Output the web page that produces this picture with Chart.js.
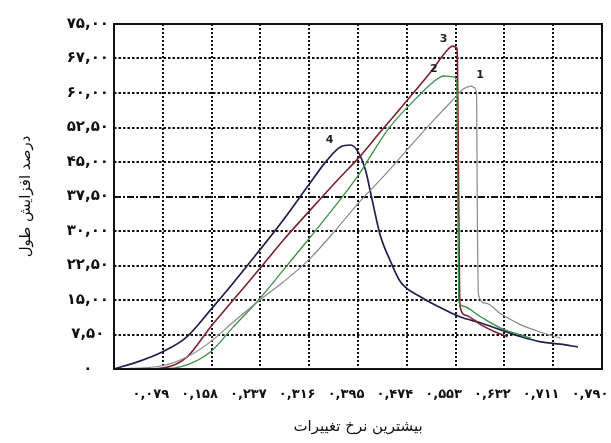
<!DOCTYPE html>
<html>
<head>
<meta charset="utf-8">
<script src="https://cdn.jsdelivr.net/npm/chart.js@4"></script>
<style>
html,body{margin:0;padding:0;background:#fff;}
canvas{display:block;}
</style>
</head>
<body>
<canvas id="c" width="611" height="443"></canvas>
<script>
// ---- data ----
const xTickValues = [0, 0.079, 0.158, 0.237, 0.316, 0.395, 0.474, 0.553, 0.632, 0.711, 0.79];
const xTickLabels = ['', '۰,۰۷۹', '۰,۱۵۸', '۰,۲۳۷', '۰,۳۱۶', '۰,۳۹۵', '۰,۴۷۴', '۰,۵۵۳', '۰,۶۳۲', '۰,۷۱۱', '۰,۷۹۰'];
const yTickValues = [0, 7.5, 15, 22.5, 30, 37.5, 45, 52.5, 60, 67.5, 75];
const yTickLabels = ['۰', '۷,۵۰', '۱۵,۰۰', '۲۲,۵۰', '۳۰,۰۰', '۳۷,۵۰', '۴۵,۰۰', '۵۲,۵۰', '۶۰,۰۰', '۶۷,۰۰', '۷۵,۰۰'];
const seriesNames = ['1', '2', '3', '4'];

const series1X = [0, 0.078, 0.118, 0.156, 0.193, 0.234, 0.274, 0.318, 0.362, 0.396, 0.440, 0.480, 0.521, 0.553, 0.566, 0.578, 0.584, 0.587, 0.588, 0.590, 0.602, 0.626, 0.659, 0.691, 0.723];
const series1Y = [0, 0.7, 2.6, 5.9, 10.2, 14.8, 18.9, 24.1, 30.7, 36.1, 42.4, 48.5, 54.6, 59.1, 60.9, 61.5, 61.1, 59.6, 36.7, 16.1, 14.3, 12.0, 9.6, 8.0, 6.7];

const series2X = [0, 0.078, 0.118, 0.156, 0.193, 0.234, 0.274, 0.318, 0.362, 0.396, 0.443, 0.491, 0.517, 0.534, 0.550, 0.555, 0.556, 0.558, 0.564, 0.594, 0.626, 0.675];
const series2Y = [0, 0, 0.9, 3.7, 9.1, 15.0, 21.5, 28.7, 36.1, 42.2, 52.0, 59.1, 62.4, 63.7, 63.5, 62.4, 47.6, 15.0, 13.7, 11.3, 8.9, 6.7];

const series3X = [0, 0.042, 0.078, 0.118, 0.156, 0.193, 0.234, 0.274, 0.318, 0.362, 0.396, 0.431, 0.472, 0.513, 0.537, 0.548, 0.555, 0.556, 0.558, 0.560, 0.569, 0.594, 0.618, 0.637];
const series3Y = [0, 0, 0.2, 2.6, 9.1, 15.0, 21.5, 28.0, 34.6, 41.1, 45.9, 51.5, 58.0, 64.6, 68.9, 70.2, 69.8, 67.2, 36.7, 13.9, 11.7, 9.6, 8.0, 7.0];

const series4X = [0, 0.037, 0.078, 0.118, 0.156, 0.193, 0.232, 0.274, 0.313, 0.345, 0.367, 0.383, 0.396, 0.407, 0.418, 0.431, 0.448, 0.464, 0.496, 0.529, 0.561, 0.594, 0.626, 0.659, 0.691, 0.723, 0.751];
const series4Y = [0, 1.5, 3.7, 7.0, 12.8, 18.7, 25.2, 32.4, 39.6, 45.4, 48.3, 48.7, 47.0, 43.3, 36.7, 29.1, 23.3, 18.9, 15.7, 13.3, 11.3, 10.0, 8.5, 7.0, 5.9, 5.4, 4.8];

// ---- styling ----
const colors = ['#8a8a8a', '#3f8f45', '#7b2230', '#20204e'];
const widths = [1.2, 1.3, 1.6, 1.7];
const labelOffsets = [[9, -11], [-10, -7], [-9, -7], [-21, -5]];
const FONT = "'DejaVu Sans', sans-serif";

function pts(xs, ys) { return xs.map((x, i) => ({x: x, y: ys[i]})); }
const allX = [series1X, series2X, series3X, series4X];
const allY = [series1Y, series2Y, series3Y, series4Y];

const datasets = allX.map((xs, i) => ({
  label: seriesNames[i],
  data: pts(xs, allY[i]),
  borderColor: colors[i],
  borderWidth: widths[i],
  pointRadius: 0,
  fill: false,
  cubicInterpolationMode: 'monotone'
}));

const gridPlugin = {
  id: 'gridFrame',
  beforeDatasetsDraw(chart) {
    const {ctx, chartArea: a, scales: {x, y}} = chart;
    ctx.save();
    ctx.strokeStyle = '#111';
    ctx.lineWidth = 2;
    xTickValues.forEach(v => {
      if (v === xTickValues[0] || v === xTickValues[xTickValues.length - 1]) return;
      const px = Math.round(x.getPixelForValue(v));
      ctx.setLineDash([2, 2]);
      ctx.beginPath(); ctx.moveTo(px, a.top); ctx.lineTo(px, a.bottom); ctx.stroke();
    });
    yTickValues.forEach(v => {
      if (v === yTickValues[0] || v === yTickValues[yTickValues.length - 1]) return;
      const py = Math.round(y.getPixelForValue(v));
      ctx.setLineDash(v === 37.5 ? [7, 2, 2, 2] : [2.5, 2]);
      ctx.beginPath(); ctx.moveTo(a.left, py); ctx.lineTo(a.right, py); ctx.stroke();
    });
    ctx.restore();
  },
  afterDatasetsDraw(chart) {
    const {ctx, chartArea: a, scales: {x, y}} = chart;
    ctx.save();
    ctx.strokeStyle = '#111';
    ctx.lineWidth = 2;
    ctx.setLineDash([]);
    ctx.strokeRect(a.left, a.top, a.right - a.left, a.bottom - a.top);
    // series labels at each curve's peak
    ctx.fillStyle = '#222';
    ctx.font = "bold 11px 'DejaVu Sans', sans-serif";
    ctx.textAlign = 'center';
    ctx.textBaseline = 'middle';
    allY.forEach((ys, i) => {
      let m = 0;
      ys.forEach((v, j) => { if (v > ys[m]) m = j; });
      const px = x.getPixelForValue(allX[i][m]) + labelOffsets[i][0];
      const py = y.getPixelForValue(ys[m]) + labelOffsets[i][1];
      ctx.fillText(seriesNames[i], px, py);
    });
    ctx.restore();
  }
};

new Chart(document.getElementById('c'), {
  type: 'line',
  data: {datasets: datasets},
  options: {
    responsive: false,
    animation: false,
    events: [],
    layout: {padding: {left: 0, right: 9, top: 24, bottom: 0}},
    plugins: {legend: {display: false}, tooltip: {enabled: false}},
    scales: {
      x: {
        type: 'linear',
        min: 0, max: 0.79,
        grid: {display: false},
        border: {display: false},
        afterBuildTicks: s => { s.ticks = xTickValues.map(v => ({value: v})); },
        afterFit: s => { s.height = 74; s.paddingRight = 0; s.paddingLeft = 0; },
        ticks: {
          autoSkip: false, maxRotation: 0, minRotation: 0,
          padding: 10, labelOffset: -12, color: '#111',
          font: {family: FONT, size: 13, weight: 'bold'},
          callback: (v, i) => xTickLabels[i]
        },
        title: {display: true, text: 'بیشترین نرخ تغییرات', color: '#111',
          font: {family: FONT, size: 15}, padding: {top: 0, bottom: 7}}
      },
      y: {
        min: 0, max: 75,
        grid: {display: false},
        border: {display: false},
        afterBuildTicks: s => { s.ticks = yTickValues.map(v => ({value: v})); },
        afterFit: s => { s.width = 114; },
        ticks: {
          autoSkip: false, padding: -3, crossAlign: 'center', color: '#111',
          font: {family: FONT, size: 15, weight: 'bold'},
          callback: (v, i) => yTickLabels[i]
        },
        title: {display: true, text: 'درصد افزایش طول', color: '#111',
          font: {family: FONT, size: 15}, padding: {top: 17, bottom: 0}}
      }
    }
  },
  plugins: [gridPlugin]
});
</script>
</body>
</html>
